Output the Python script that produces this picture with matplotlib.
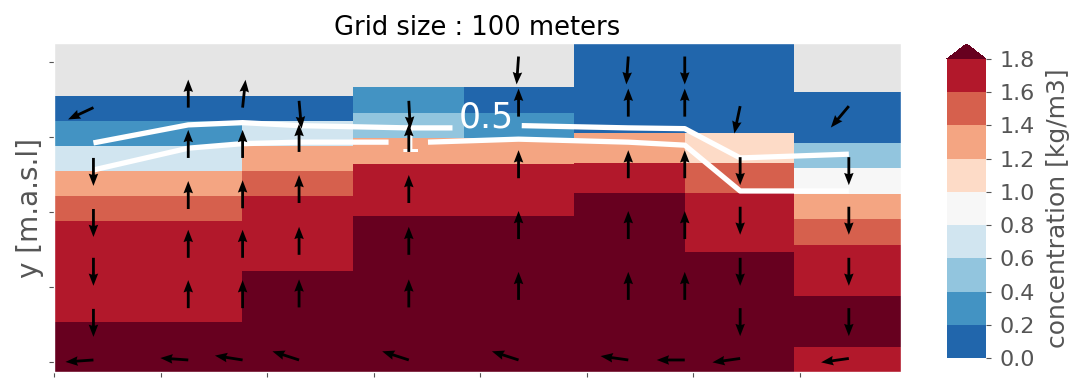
import matplotlib
matplotlib.use("Agg")
import matplotlib.pyplot as plt
from matplotlib.colors import ListedColormap, BoundaryNorm
import numpy as np

plt.style.use('ggplot')

# colour classes of the concentration [kg/m3]
levels = [0.0, 0.2, 0.4, 0.6, 0.8, 1.0, 1.2, 1.4, 1.6, 1.8]
bin_colors = ['#2166ac', '#4393c3', '#92c5de', '#d1e5f0', '#f7f7f7',
              '#fddbc7', '#f4a582', '#d6604d', '#b2182b']
over_color = '#67001f'

# model columns: x edges [m], bed and surface elevation, 11 sigma layers each
col_edges = [0, 176, 281, 385, 488, 592, 695, 795]
col_bottom = -1.3
col_surface = [35.5, 35.5, 36.7, 36.7, 42.5, 42.5, 36.0]

# concentration of each layer, bed layer first
conc_c1 = [1.9, 1.9, 1.7, 1.7, 1.7, 1.7, 1.5, 1.3, 0.7, 0.3, 0.1]
conc_c2 = [1.9, 1.9, 1.9, 1.9, 1.7, 1.7, 1.7, 1.5, 1.3, 0.7, 0.1]
conc_c3 = [1.9, 1.9, 1.9, 1.9, 1.9, 1.9, 1.7, 1.7, 1.3, 0.5, 0.3]
conc_c4 = [1.9, 1.9, 1.9, 1.9, 1.9, 1.9, 1.7, 1.7, 1.3, 0.3, 0.1]
conc_c5 = [1.9, 1.9, 1.9, 1.9, 1.9, 1.9, 1.7, 1.3, 0.1, 0.1, 0.1]
conc_c6 = [1.9, 1.9, 1.9, 1.9, 1.7, 1.7, 1.5, 1.1, 0.1, 0.1, 0.1]
conc_c7 = [1.7, 1.9, 1.9, 1.7, 1.7, 1.5, 1.3, 0.9, 0.5, 0.1, 0.1]
conc = [conc_c1, conc_c2, conc_c3, conc_c4, conc_c5, conc_c6, conc_c7]

# velocity arrows: x of each profile, tail elevations (top to bed) and direction [deg]
arrow_x = [37, 126, 177, 230, 333, 436, 539, 592, 644, 746]
arrow_y = [
    [33.9, 33.9, 33.9, 34.8, 34.8, 40.7, 40.7, 40.7, 34.1, 34.1],
    [27.2, 27.2, 27.2, 28.0, 28.0, 32.7, 32.7, 32.7, 27.3, 27.3],
    [20.4, 20.4, 20.5, 21.2, 21.2, 24.5, 24.5, 24.5, 20.7, 20.7],
    [13.9, 13.9, 13.9, 14.3, 14.3, 16.4, 16.4, 16.4, 13.9, 13.9],
    [7.1, 7.2, 7.2, 7.3, 7.3, 8.3, 8.3, 8.3, 7.2, 7.2],
    [0.3, 0.3, 0.3, 0.3, 0.3, 0.3, 0.3, 0.3, 0.5, 0.5],
]
arrow_dir = [
    [205, 90, 84, 275, 273, 266, 266, 270, 258, 230],
    [270, 90, 90, 90, 90, 90, 90, 90, 270, 270],
    [270, 90, 90, 90, 90, 90, 90, 90, 270, 270],
    [270, 90, 90, 90, 90, 90, 90, 90, 270, 270],
    [270, 90, 90, 90, 90, 90, 90, 90, 270, 270],
    [184, 176, 171, 162, 162, 162, 172, 180, 188, 188],
]

# contour lines 0.5 and 1 (nan = gap for the label)
c05_x = [37, 126, 177, 230, 333, 374, np.nan, 439, 539, 592, 644, 746]
c05_y = [29.2, 31.6, 31.9, 31.5, 31.2, 31.2, np.nan, 31.5, 31.2, 31.1, 27.2, 27.7]
c10_x = [37, 126, 177, 230, 314, np.nan, 351, 436, 539, 592, 644, 746]
c10_y = [25.6, 28.5, 29.1, 29.3, 29.3, np.nan, 29.3, 29.7, 29.3, 28.9, 22.8, 22.8]
clabels = ['0.5', '1']
clabel_x = [406, 333]
clabel_y = [31.2, 28.0]

cmap = ListedColormap(bin_colors)
cmap.set_over(over_color)
norm = BoundaryNorm(levels, cmap.N)

fig = plt.figure(figsize=(10.89, 3.78), dpi=100)
ax = fig.add_axes([0.0496, 0.0159, 0.7778, 0.8703])
cax = fig.add_axes([0.8696, 0.0529, 0.0358, 0.8307])

for i in range(len(conc)):
    y_edges = np.linspace(col_bottom, col_surface[i], len(conc[i]) + 1)
    mesh = ax.pcolormesh(col_edges[i:i + 2], y_edges, np.array(conc[i])[:, None],
                         cmap=cmap, norm=norm)

ax.plot(c05_x, c05_y, color='white', lw=3.8, solid_capstyle='butt', zorder=2)
ax.plot(c10_x, c10_y, color='white', lw=3.8, solid_capstyle='butt', zorder=2)
for lab, lx, ly in zip(clabels, clabel_x, clabel_y):
    ax.text(lx, ly, lab, color='white', fontsize=25, ha='center', va='baseline', zorder=2)

ang = np.radians(np.array(arrow_dir))
X = np.tile(arrow_x, (len(arrow_y), 1))
ax.quiver(X, np.array(arrow_y), np.cos(ang), np.sin(ang), angles='uv',
          scale_units='inches', scale=1 / 0.28, width=0.0033, headwidth=3.4,
          headlength=4.4, headaxislength=4.0, color='k', zorder=3)

ax.grid(False)
ax.set_xlim(0, 795)
ax.set_ylim(-1.3, 42.5)
ax.set_xticks(np.arange(0, 701, 100))
ax.set_yticks([0, 10, 20, 30, 40])
ax.tick_params(labelbottom=False, labelleft=False)
ax.set_ylabel('y [m.a.s.l]', fontsize=20)
ax.set_title('Grid size : 100 meters', fontsize=18.5)

cb = fig.colorbar(mesh, cax=cax, extend='max', ticks=levels)
cb.outline.set_visible(False)
cax.tick_params(labelsize=16, pad=6)
cb.set_label('concentration [kg/m3]', fontsize=18, labelpad=8)

fig.savefig('out.png', dpi=100)
